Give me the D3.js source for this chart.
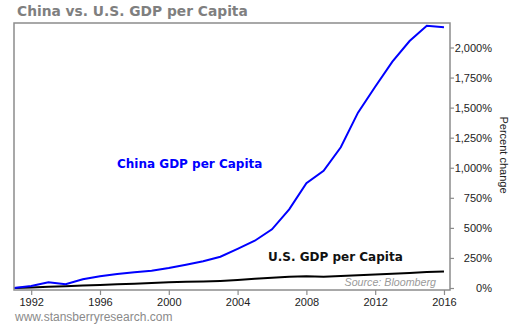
<!DOCTYPE html>
<html>
<head>
<meta charset="utf-8">
<script src="https://cdn.jsdelivr.net/npm/d3@7"></script>
<style>
  html, body { margin: 0; padding: 0; background: #fff; }
  svg { display: block; }
</style>
</head>
<body>
<svg id="chart" width="510" height="325"></svg>
<script>
const years = [1991,1992,1993,1994,1995,1996,1997,1998,1999,2000,2001,2002,2003,2004,2005,2006,2007,2008,2009,2010,2011,2012,2013,2014,2015,2016];
const chinaValues = [0,17,47,31,72,97,117,131,144,166,194,222,260,325,393,488,654,871,975,1170,1458,1674,1882,2054,2181,2168];
const usValues = [0,5,10,15,20,25,31,36,42,48,51,54,59,67,76,85,93,98,93,100,106,112,118,125,133,138];
const yTicks = [0,250,500,750,1000,1250,1500,1750,2000];
const xTicks = [1992,1996,2000,2004,2008,2012,2016];

const svg = d3.select("#chart");
const L = 14, R = 450, T = 23, B = 290;

const x = d3.scaleLinear().domain([1991, 2016.35]).range([L, R]);
const y = d3.scaleLinear().domain([-16.6, 2203.7]).range([B, T]);

// Title
svg.append("text")
  .attr("x", 17).attr("y", 16)
  .attr("font-family", "Verdana, 'DejaVu Sans', sans-serif")
  .attr("font-weight", "bold").attr("font-size", 13.8)
  .attr("fill", "#7f7f7f")
  .text("China vs. U.S. GDP per Capita");

// Lines
const line = d3.line().x((d, i) => x(years[i])).y(d => y(d));
svg.append("path").datum(usValues)
  .attr("d", line).attr("fill", "none")
  .attr("stroke", "#000").attr("stroke-width", 2);
svg.append("path").datum(chinaValues)
  .attr("d", line).attr("fill", "none")
  .attr("stroke", "#0000ff").attr("stroke-width", 2);

// Frame
svg.append("rect")
  .attr("x", L).attr("y", T).attr("width", R - L).attr("height", B - T)
  .attr("fill", "none").attr("stroke", "#8c8c8c").attr("stroke-width", 1.5);

// Right axis
const fmt = d => d3.format(",")(d) + "%";
const yAxis = svg.append("g").attr("transform", `translate(${R},0)`)
  .call(d3.axisRight(y).tickValues(yTicks).tickSize(4).tickFormat(fmt));
yAxis.select(".domain").remove();
yAxis.selectAll(".tick line").attr("stroke", "#8c8c8c").attr("stroke-width", 1.2);
yAxis.selectAll(".tick text")
  .attr("x", 42).attr("text-anchor", "end")
  .attr("font-family", "Arial, 'Liberation Sans', sans-serif")
  .attr("font-size", 11).attr("fill", "#222");

// Bottom axis
const xAxis = svg.append("g").attr("transform", `translate(0,${B})`)
  .call(d3.axisBottom(x).tickValues(xTicks).tickSize(5).tickFormat(d3.format("d")));
xAxis.select(".domain").remove();
xAxis.selectAll(".tick line").attr("stroke", "#8c8c8c").attr("stroke-width", 1.2);
xAxis.selectAll(".tick text")
  .attr("y", 8)
  .attr("font-family", "Arial, 'Liberation Sans', sans-serif")
  .attr("font-size", 11).attr("fill", "#222");

// Axis title
svg.append("text")
  .attr("transform", "translate(500,155) rotate(90)")
  .attr("text-anchor", "middle")
  .attr("font-family", "Arial, 'Liberation Sans', sans-serif")
  .attr("font-size", 11).attr("fill", "#222")
  .text("Percent change");

// Series labels
svg.append("text")
  .attr("x", 117).attr("y", 168)
  .attr("font-family", "Verdana, 'DejaVu Sans', sans-serif")
  .attr("font-weight", "bold").attr("font-size", 12)
  .attr("fill", "#0000ff")
  .text("China GDP per Capita");
svg.append("text")
  .attr("x", 268).attr("y", 261)
  .attr("font-family", "Verdana, 'DejaVu Sans', sans-serif")
  .attr("font-weight", "bold").attr("font-size", 12)
  .attr("fill", "#111")
  .text("U.S. GDP per Capita");

// Source
svg.append("text")
  .attr("x", 436).attr("y", 286)
  .attr("text-anchor", "end")
  .attr("font-family", "Arial, 'Liberation Sans', sans-serif")
  .attr("font-style", "italic").attr("font-size", 10.7)
  .attr("fill", "#9a9a9a")
  .text("Source: Bloomberg");

// Footer
svg.append("text")
  .attr("x", 15).attr("y", 321)
  .attr("font-family", "Arial, 'Liberation Sans', sans-serif")
  .attr("font-size", 12)
  .attr("fill", "#8a8a8a")
  .text("www.stansberryresearch.com");
</script>
</body>
</html>
